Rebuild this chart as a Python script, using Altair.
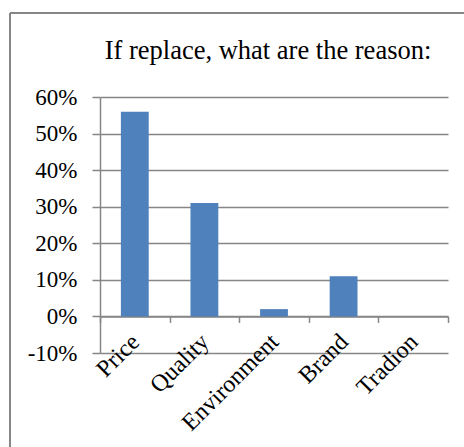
import altair as alt
import pandas as pd

title_text = "If replace, what are the reason:"
categories = ["Price", "Quality", "Environment", "Brand", "Tradion"]
values = [0.56, 0.31, 0.02, 0.11, 0.0]
y_ticks = [-0.1, 0.0, 0.1, 0.2, 0.3, 0.4, 0.5, 0.6]

df = pd.DataFrame({"reason": categories, "share": values})

W, H = 348, 256
FONT = "Liberation Serif"
GRAY = "#868686"

bars = alt.Chart(df).mark_bar(color="#4F81BD", width=alt.RelativeBandSize(0.4)).encode(
    x=alt.X(
        "reason:N",
        sort=categories,
        scale=alt.Scale(paddingInner=0, paddingOuter=0),
        axis=alt.Axis(
            title=None,
            labelAngle=-45,
            labelFont=FONT,
            labelFontSize=24,
            labelColor="black",
            labelPadding=7,
            labelOffset=-8,
            tickSize=6,
            tickColor=GRAY,
            tickWidth=1.5,
            domainColor=GRAY,
            domainWidth=1.5,
            tickBand="extent",
            offset=-H / 7,
            grid=False,
        ),
    ),
    y=alt.Y(
        "share:Q",
        scale=alt.Scale(domain=[-0.1, 0.6], nice=False, zero=False),
        axis=alt.Axis(
            title=None,
            values=y_ticks,
            labelExpr="round(datum.value * 100) + '%'",
            labelFont=FONT,
            labelFontSize=23,
            labelColor="black",
            labelPadding=15,
            tickSize=8,
            tickColor=GRAY,
            tickWidth=1.5,
            domainColor=GRAY,
            domainWidth=1.5,
            grid=True,
            gridColor=GRAY,
            gridWidth=1.5,
        ),
    ),
)

title = alt.Chart(pd.DataFrame({"t": [title_text]})).mark_text(
    font=FONT, fontSize=26.5, align="center", baseline="alphabetic", color="black"
).encode(text="t:N", x=alt.value(168), y=alt.value(-38))

border_top = alt.Chart(pd.DataFrame({"a": [0]})).mark_rule(color=GRAY, strokeWidth=2).encode(
    x=alt.value(-90), x2=alt.value(380), y=alt.value(-84)
)
border_left = alt.Chart(pd.DataFrame({"a": [0]})).mark_rule(color=GRAY, strokeWidth=2).encode(
    x=alt.value(-90), y=alt.value(-84), y2=alt.value(360)
)

chart = alt.layer(border_top, border_left, bars, title).properties(
    width=W,
    height=H,
    autosize=alt.AutoSizeParams(type="none"),
    padding={"left": 100, "top": 97, "right": 16, "bottom": 94},
).configure_view(stroke=None)

chart.save("out.html", embed_options={"renderer": "svg", "actions": False})
